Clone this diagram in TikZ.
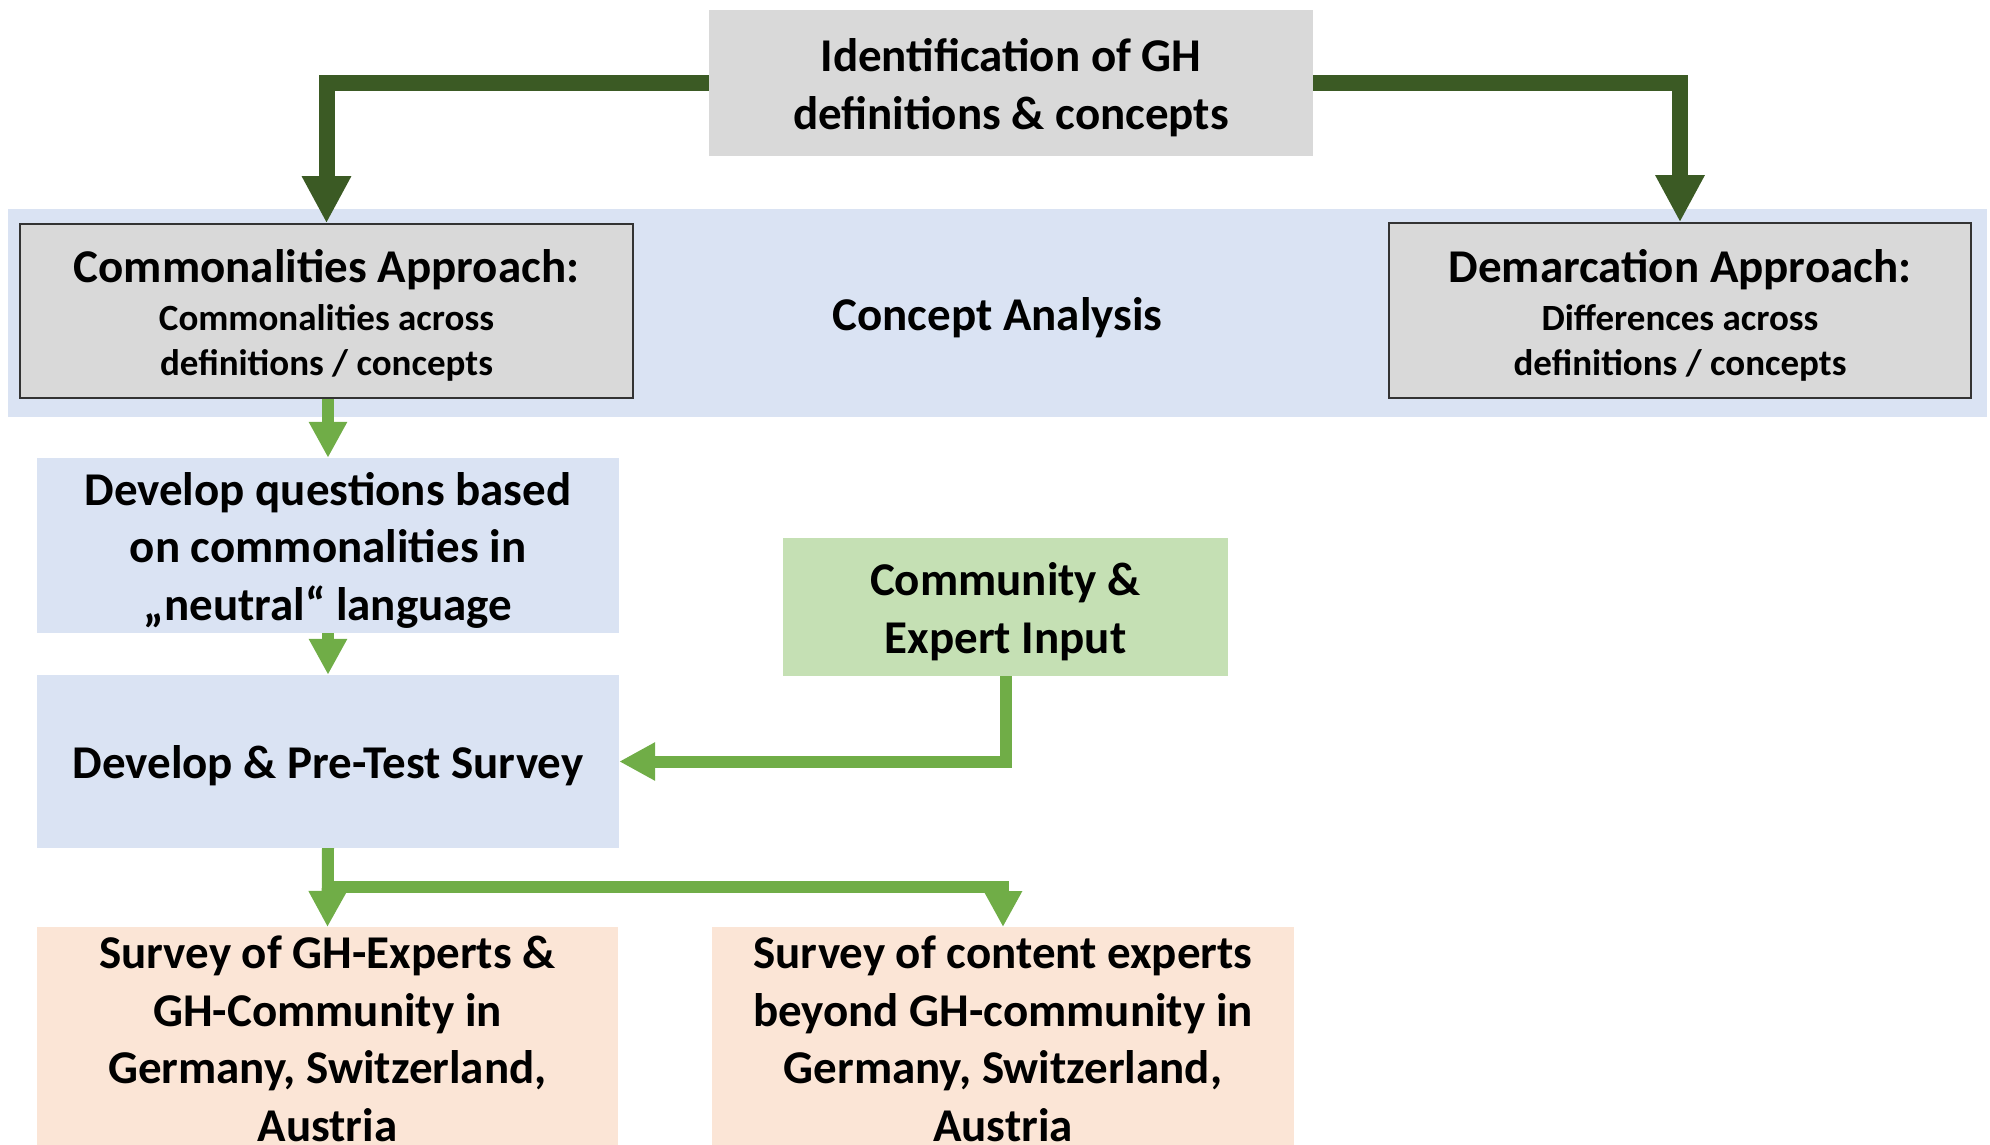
\documentclass[tikz,border=0pt]{standalone}
\usepackage{fontspec}
\setmainfont{Carlito}
\usetikzlibrary{arrows.meta}
\definecolor{bandblue}{HTML}{DAE3F3}
\definecolor{boxgray}{HTML}{D9D9D9}
\definecolor{lgreenfill}{HTML}{C5E0B4}
\definecolor{peach}{HTML}{FBE5D6}
\definecolor{dgreen}{HTML}{3B5A24}
\definecolor{lgreen}{HTML}{70AD47}
\newcommand\upstrut{\rule{0pt}{\dimexpr\fontcharht\font`l+9pt\relax}}
\begin{document}
\begin{tikzpicture}[x=1pt,y=-1pt,
  box/.style={inner sep=0pt, align=center, font=\bfseries\fontsize{47}{57.5}\selectfont},
  apprbox/.style={inner sep=0pt, align=center, fill=boxgray, draw=black!80, line width=1.5pt,
    font=\bfseries\fontsize{37}{45}\selectfont},
  dkarrow/.style={draw=dgreen, line width=16pt, line join=miter,
    -{Triangle[length=47pt,width=46pt]}},
  lgarrow/.style={draw=lgreen, line width=12pt, line join=miter,
    -{Triangle[length=36pt,width=36pt]}}]
\useasboundingbox (0,0) rectangle (1990,1145);

% band
\node[box, fill=bandblue, minimum width=1979pt, minimum height=208pt] (ca) at (997.5,313) {\upstrut Concept Analysis};

% boxes
\node[box, fill=boxgray, minimum width=604pt, minimum height=146pt] (id) at (1011,83)
  {\upstrut Identification of GH\\definitions \& concepts};
\node[apprbox, minimum width=613pt, minimum height=174pt] (comm) at (326.5,311)
  {{\fontsize{47}{57}\selectfont\upstrut Commonalities Approach:}\\[3pt]Commonalities across\\definitions / concepts};
\node[apprbox, minimum width=582pt, minimum height=175pt] (dem) at (1680,310.5)
  {{\fontsize{47}{57}\selectfont\upstrut Demarcation Approach:}\\[3pt]Differences across\\definitions / concepts};
\node[box, fill=bandblue, minimum width=582pt, minimum height=175pt] (dq) at (328,545.5)
  {\upstrut Develop questions based\\on commonalities in\\„neutral“ language};
\node[box, fill=bandblue, minimum width=582pt, minimum height=173pt] (dp) at (328,761.5)
  {\upstrut Develop \& Pre-Test Survey};
\node[box, fill=lgreenfill, minimum width=445pt, minimum height=138pt] (ce) at (1005.5,607)
  {\upstrut Community \&\\Expert Input};
\node[box, fill=peach, minimum width=581pt, inner ysep=9pt, anchor=north] (s1) at (327.5,927)
  {Survey of GH-Experts \&\\GH-Community in\\Germany, Switzerland,\\Austria};
\node[box, fill=peach, minimum width=582pt, inner ysep=9pt, anchor=north] (s2) at (1003,927)
  {Survey of content experts\\beyond GH-community in\\Germany, Switzerland,\\Austria};

% connectors
\draw[dkarrow] (id.west) -| (comm.north);
\draw[dkarrow] (id.east) -| (dem.north);
\draw[lgarrow] (dq.north |- comm.south) -- (dq.north);
\draw[lgarrow] (dq.south) -- (dp.north);
\draw[lgarrow] (ce.south) |- (dp.east);
\coordinate (j) at (328,887);
\draw[lgarrow] (dp.south) -- (s1.north);
\draw[lgarrow] (dp.south) -- (j) -| (s2.north);
\end{tikzpicture}
\end{document}
